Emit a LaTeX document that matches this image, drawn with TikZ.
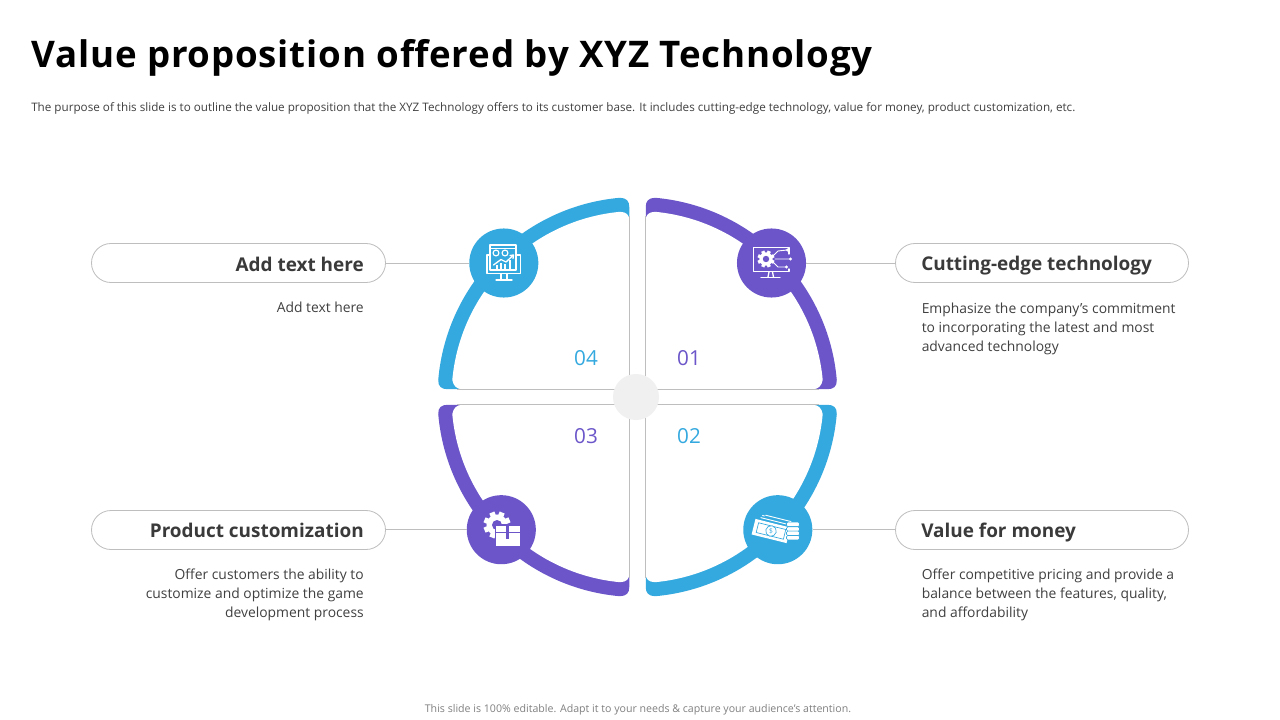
\documentclass[tikz,border=0pt]{standalone}
\usepackage{fontspec}
\setmainfont[Ligatures=ResetAll]{Open Sans}
\newfontfamily\titlefont[LetterSpace=2.25]{Open Sans}
\definecolor{cblue}{HTML}{34A9DF}
\definecolor{cpurple}{HTML}{6B55C9}
\definecolor{cgrey}{HTML}{BEBEBE}
\definecolor{ctext}{HTML}{404040}
\definecolor{chead}{HTML}{3A3A3A}
\definecolor{chub}{HTML}{F0F0F0}
\tikzset{
  wire/.style={draw=cgrey,line width=.6pt},
  pill/.style={draw=cgrey,line width=.6pt,fill=white,rounded corners=14.6pt},
  disc/.style={circle,minimum size=51.8pt,inner sep=0pt},
  heading/.style={font=\bfseries\fontsize{14.2}{17}\selectfont,text=chead,inner sep=0pt},
  bodyr/.style={font=\fontsize{10.4}{14.25}\selectfont,text=ctext,inner sep=0pt,align=right},
  bodyl/.style={font=\fontsize{10.4}{14.25}\selectfont,text=ctext,inner sep=0pt,align=left},
  num/.style={font=\fontsize{15.5}{18}\selectfont,inner sep=0pt},
  ico/.style={draw=white,line width=1pt,fill=none,line cap=round,line join=round},
}
% #1 x sign, #2 y sign, #3 colour
\newcommand\petal[3]{%
\begin{scope}[shift={(637.5,397)},x=.75pt,y=.75pt,xscale=#1,yscale=#2]
\fill[#3] (8.25,190) .. controls (8.25,196) and (11,198.9) .. (17.43,199.24)
  arc[start angle=85,end angle=4.9,radius=150pt]
  .. controls (199.6,10.6) and (196,7.8) .. (190,7.8) -- (8.25,7.8) -- cycle;
\fill[white] (8.25,177) .. controls (8.25,182) and (11,185) .. (17.5,185.2)
  arc[start angle=84.6,end angle=5.25,radius=139.5pt]
  .. controls (184,11) and (181,7.8) .. (175,7.8) -- (8.25,7.8) -- cycle;
\draw[cgrey,line width=.7pt] (8.25,181) -- (8.25,7.8) -- (181,7.8);
\end{scope}}
% #1 centre, #2 outer radius, #3 hole radius, #4 hole colour (px units)
\newcommand\gearmark[4]{%
\begin{scope}[shift={#1},x=.75pt,y=-.75pt]
\foreach \a in {0,45,...,315}
  \fill[white,rotate=\a+22.5] (-#2*.2,0) rectangle (#2*.2,#2);
\fill[white] (0,0) circle[radius=#2*.75*.78pt];
\fill[#4] (0,0) circle[radius=#3*.75pt];
\end{scope}}
\begin{document}
\begin{tikzpicture}[x=.75pt,y=-.75pt]
\useasboundingbox (0,0) rectangle (1280,720);
\fill[white] (0,0) rectangle (1280,720);
% texts at top and bottom
\node[anchor=west,inner sep=0pt,font=\titlefont\bfseries\fontsize{27.5}{32}\selectfont] (title) at (31,58) {Value proposition offered by XYZ Technology};
\node[anchor=west,inner sep=0pt,font=\fontsize{8.76}{10}\selectfont,text=ctext] (sub) at (31,108) {The purpose of this slide is to outline the value proposition that the XYZ Technology offers to its customer base. It includes cutting-edge technology, value for money, product customization, etc.};
\node[inner sep=0pt,font=\fontsize{7.96}{10}\selectfont,text=gray] (foot) at (638,710) {This slide is 100\% editable. Adapt it to your needs \& capture your audience’s attention.};
% petals
\petal{1}{1}{cpurple}
\petal{-1}{1}{cblue}
\petal{-1}{-1}{cpurple}
\petal{1}{-1}{cblue}
\fill[chub] (636,397) circle[radius=17.25pt];
% numbers
\node[num,text=cblue] (n4) at (586,358) {04};
\node[num,text=cpurple] (n1) at (689,358) {01};
\node[num,text=cpurple] (n3) at (586,436) {03};
\node[num,text=cblue] (n2) at (689,436) {02};
% pills
\draw[pill] (91.5,243.5) rectangle (385.5,282.5);
\draw[pill] (895.5,243.5) rectangle (1188.5,282.5);
\draw[pill] (91.5,510.5) rectangle (385.5,549.5);
\draw[pill] (895.5,510.5) rectangle (1188.5,549.5);
\coordinate (pTL) at (385.5,263.5);
\coordinate (pTR) at (895.5,263.5);
\coordinate (pBL) at (385.5,529.7);
\coordinate (pBR) at (895.5,529.7);
% discs
\node[disc,fill=cblue] (dTL) at (503.8,263) {};
\node[disc,fill=cpurple] (dTR) at (771.5,263) {};
\node[disc,fill=cpurple] (dBL) at (501.3,529.7) {};
\node[disc,fill=cblue] (dBR) at (777.8,529.7) {};
\draw[wire] (pTL) -- (dTL.west |- pTL);
\draw[wire] (pTR) -- (dTR.east |- pTR);
\draw[wire] (pBL) -- (dBL.west |- pBL);
\draw[wire] (pBR) -- (dBR.east |- pBR);
% labels
\node[heading,anchor=base east] (h4) at (364,271) {Add text here};
\node[heading,anchor=base west] (h1) at (921,270.3) {Cutting-edge technology};
\node[heading,anchor=base east] (h3) at (364,537) {Product customization};
\node[heading,anchor=base west] (h2) at (921,537) {Value for money};
\node[bodyr,anchor=north east] (b4) at (364,301.5) {Add text here};
\node[bodyl,anchor=north west] (b1) at (921.5,302.5) {Emphasize the company's commitment\\to incorporating the latest and most\\advanced technology};
\node[bodyr,anchor=north east] (b3) at (364,568.5) {Offer customers the ability to\\customize and optimize the game\\development process};
\node[bodyl,anchor=north west] (b2) at (921.5,568.5) {Offer competitive pricing and provide a\\balance between the features, quality,\\and affordability};
% icon 04: monitor with chart window
\draw[ico] (490,255) -- (490,245) -- (516,245) -- (516,255);
\draw[ico] (490,248.5) -- (516,248.5);
\draw[ico] (490,255) -- (487,255) -- (487,273.5) -- (520.5,273.5) -- (520.5,255) -- (516,255);
\draw[ico] (490,255) -- (490,270) (516,255) -- (516,270) (490,270) -- (516,270);
\draw[ico] (501,274) -- (501,279) (507,274) -- (507,279);
\draw[ico] (496,280) -- (512,280);
\draw[ico,line width=.9pt] (496,253) circle[radius=2.2pt] (505,253) circle[radius=2.2pt];
\draw[ico,line width=1.5pt,line cap=butt] (497,270) -- (497,265) (501,270) -- (501,263) (505,270) -- (505,264) (510,270) -- (510,260);
\draw[ico] (493.5,265) -- (501,259.5) -- (506,262) -- (513,255.5);
\draw[ico] (510,255.5) -- (513.5,255) -- (513,258.5);
% icon 01: monitor with gear and circuit
\draw[ico] (789,254) -- (789,247.5) -- (753.5,247.5) -- (753.5,271.5) -- (789,271.5) -- (789,269);
\draw[ico] (769,272) -- (768,277) (772.5,272) -- (773.5,277);
\draw[ico] (761,277.5) -- (780,277.5);
\gearmark{(766,259)}{8.5}{3.2}{cpurple}
\draw[ico,line width=.7pt] (773,256) -- (778,251) -- (787,250) (775,259) -- (790,259) (773,262) -- (778,267) -- (786,267);
\fill[white] (787.5,250) circle[radius=1.3pt] (790.5,259) circle[radius=1.3pt] (786.5,267) circle[radius=1.3pt];
% icon 03: gear and box
\gearmark{(497,525)}{13.5}{5}{cpurple}
\fill[white,draw=cpurple,line width=.8pt] (495.5,525) rectangle (520.5,546.3);
\draw[cpurple,line width=.3pt] (496,532) -- (520,532);
\fill[cpurple] (506,525) rectangle (509.3,538.5);
% icon 02: banknotes and coins
\begin{scope}[shift={(771,531)},rotate=-14]
\draw[ico,line width=.7pt] (-12,-13) -- (-10,-13) (-9,-14) -- (17,-14) -- (17,2);
\draw[ico,line width=.7pt] (-13,-10.5) -- (19,-10.5) -- (19,2);
\fill[white] (-18,-8) -- (18,-8) -- (18,8) -- (-18,8) -- cycle;
\draw[cblue,line width=.5pt] (-14,-5) rectangle (14,5);
\draw[cblue,line width=.5pt,fill=white] (0,0) circle[radius=4pt];
\node[inner sep=0pt,text=cblue,font=\fontsize{5}{5}\selectfont] (dollar) at (0,0) {\$};
\end{scope}
\foreach \yy in {524.3,529,533.3,537.7}
  \draw[fill=white,draw=cblue,line width=.4pt,rounded corners=1pt] (786.5,\yy-2.2) rectangle (799.5,\yy+2.2);
\end{tikzpicture}
\end{document}
